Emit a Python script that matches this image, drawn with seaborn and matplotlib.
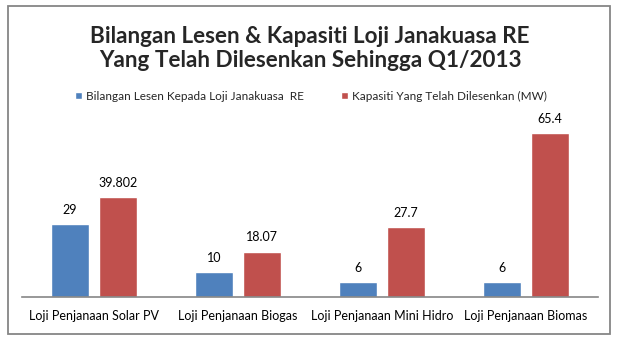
import matplotlib
matplotlib.use("Agg")
import matplotlib.pyplot as plt
import seaborn as sns
import pandas as pd
from matplotlib.patches import Rectangle

categories = ["Loji Penjanaan Solar PV", "Loji Penjanaan Biogas",
              "Loji Penjanaan Mini Hidro", "Loji Penjanaan Biomas"]
series_names = ["Bilangan Lesen Kepada Loji Janakuasa  RE",
                "Kapasiti Yang Telah Dilesenkan (MW)"]
lesen = [29, 10, 6, 6]
kapasiti = [39.802, 18.07, 27.7, 65.4]
title = "Bilangan Lesen & Kapasiti Loji Janakuasa RE\nYang Telah Dilesenkan Sehingga Q1/2013"

df = pd.DataFrame({
    "kategori": categories * 2,
    "siri": [series_names[0]] * 4 + [series_names[1]] * 4,
    "nilai": lesen + kapasiti,
})

sns.set_theme(style="white")
plt.rcParams["font.family"] = ["Lato", "DejaVu Sans"]

W, H = 618, 340
fig = plt.figure(figsize=(W / 100, H / 100), dpi=100)
ax = fig.add_axes([22 / W, 43 / H, 576 / W, 175.7 / H])

palette = ["#4F81BD", "#C0504D"]
sns.barplot(data=df, x="kategori", y="nilai", hue="siri", palette=palette,
            width=0.667, gap=0.21, saturation=1, ax=ax, errorbar=None)

for cont in ax.containers:
    labels = ["{:g}".format(v) for v in cont.datavalues]
    ax.bar_label(cont, labels=labels, padding=6, fontsize=9, color="#000000")

ax.set_ylim(0, 70)
ax.set_xlim(-0.5, 3.5)
ax.set_xlabel("")
ax.set_ylabel("")
ax.set_yticks([])
for s in ["left", "right", "top"]:
    ax.spines[s].set_visible(False)
ax.spines["bottom"].set_color("#868686")
ax.spines["bottom"].set_linewidth(1.2)
ax.tick_params(axis="x", length=0, pad=9, labelsize=9, colors="#000000")

handles, labs = ax.get_legend_handles_labels()
ax.legend(handles, labs, loc="center", bbox_to_anchor=(311 / W, 244 / H),
          bbox_transform=fig.transFigure, ncol=2, frameon=False, fontsize=8.5,
          handlelength=0.6, handleheight=0.6, handletextpad=0.3,
          columnspacing=3.2)

fig.text(310 / W, 1 - 48.5 / H, title, ha="center", va="center",
         fontsize=16.2, fontweight="bold", linespacing=1.2)

fig.patches.append(Rectangle((8 / W, 6 / H), 602 / W, 328 / H,
                             transform=fig.transFigure, fill=False,
                             edgecolor="#868686", linewidth=1.3))

fig.savefig("out.png", dpi=100, facecolor="white")
